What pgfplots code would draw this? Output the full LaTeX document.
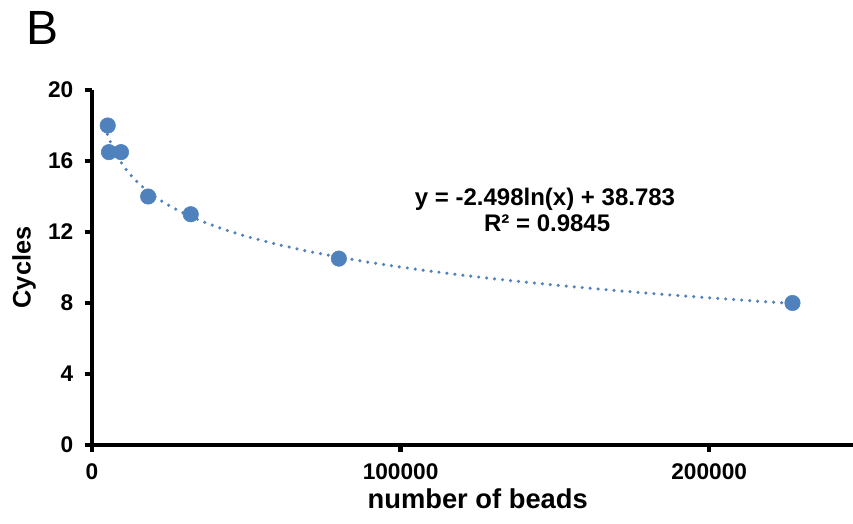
\documentclass[border=0pt]{standalone}
\usepackage{fontspec}
\setmainfont{Liberation Sans}
\usepackage{pgfplots}
\pgfplotsset{compat=1.18}
\definecolor{exblue}{HTML}{4F81BD}
\begin{document}
\begin{tikzpicture}
\begin{axis}[
  name=ax,
  at={(0,0)}, anchor=south west,
  scale only axis, width=578.6pt, height=266.25pt,
  xmin=0, xmax=250000, ymin=0, ymax=20,
  axis lines*=left,
  axis line style={line width=3.2pt, black, -},
  xtick={0,100000,200000},
  ytick={0,4,8,12,16,20},
  tick align=outside,
  major tick length=5.5pt,
  tick style={line width=3.2pt, black},
  scaled x ticks=false,
  /pgf/number format/assume math mode=true,
  xticklabel={\pgfmathprintnumber[fixed,1000 sep={},precision=0]{\tick}},
  ticklabel style={font=\bfseries\fontsize{17}{20}\selectfont},
  yticklabel style={xshift=-5pt},
  xticklabel style={yshift=-5pt},
  xlabel={number of beads},
  ylabel={Cycles},
  xlabel style={font=\bfseries\fontsize{20.5}{24}\selectfont, at={(axis description cs:0.5,0)}, anchor=base, yshift=-48pt},
  ylabel style={font=\bfseries\fontsize{19}{22}\selectfont, at={(axis description cs:0,0.5)}, anchor=base, yshift=46pt},
  clip=false,
]
\addplot[exblue, line width=2.6pt, dash pattern=on 0pt off 6pt, line cap=round, no marks] coordinates {
(5000,17.507) (5500,17.269) (6000,17.052) (7000,16.666) (8000,16.333) (9000,16.039)
(10000,15.776) (11000,15.537) (12000,15.320) (14000,14.935) (16000,14.602) (18000,14.307)
(20000,14.044) (23000,13.695) (26000,13.389) (30000,13.031) (35000,12.646) (40000,12.313)
(45000,12.018) (50000,11.755) (60000,11.300) (70000,10.914) (80000,10.581) (90000,10.287)
(100000,10.024) (110000,9.786) (120000,9.568) (130000,9.368) (140000,9.183) (150000,9.011)
(160000,8.850) (170000,8.698) (180000,8.555) (190000,8.420) (200000,8.292) (210000,8.170)
(220000,8.054) (227000,7.976)
};
\addplot[only marks, mark=*, mark size=5.8pt, exblue, mark options={draw=exblue, fill=exblue}] coordinates {
(5100,18) (5500,16.5) (9400,16.5) (18200,14) (32000,13) (80000,10.5) (227000,8)
};
\node[anchor=base, font=\bfseries\fontsize{18}{20}\selectfont] at (axis cs:146800,13.52) {y = -2.498ln(x) + 38.783};
\node[anchor=base, font=\bfseries\fontsize{18}{20}\selectfont] at (axis cs:147500,12.0) {R² = 0.9845};
\end{axis}
\node[anchor=base west, font=\fontsize{36}{40}\selectfont] at (-52.5pt,300pt) {B};
\pgfresetboundingbox
\path (-69pt,-59.25pt) rectangle (570.75pt,333.75pt);
\end{tikzpicture}
\end{document}
